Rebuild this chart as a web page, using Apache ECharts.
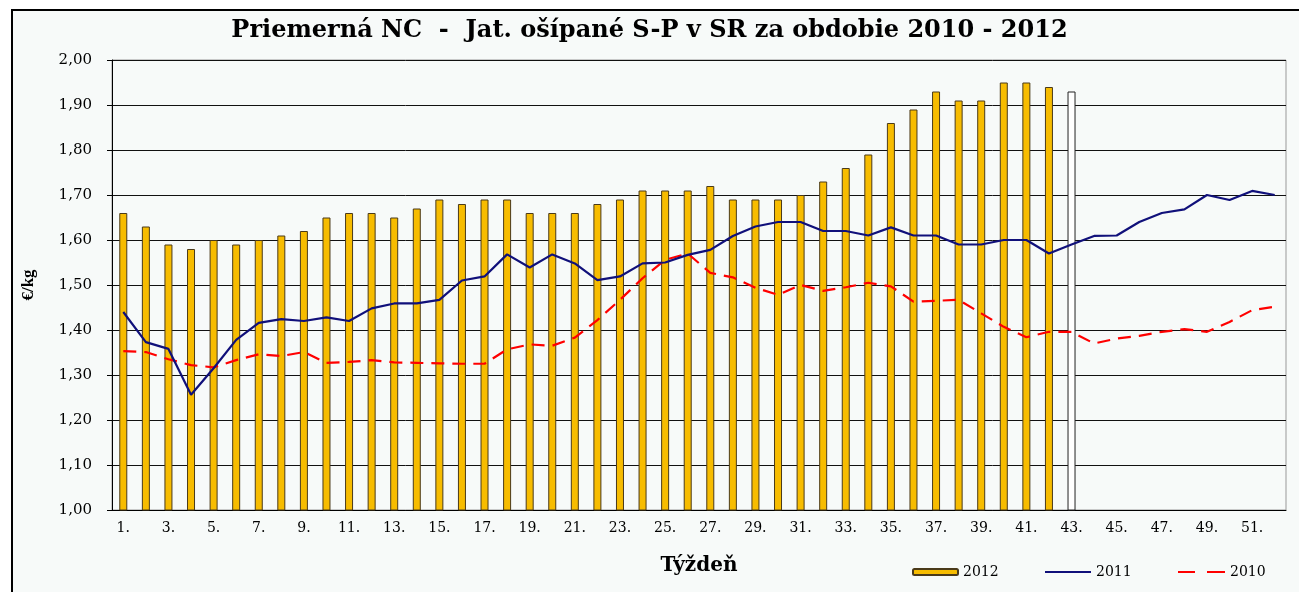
<!DOCTYPE html>
<html style="height: 100%">
  <head>
    <meta charset="utf-8" />
  </head>
  <body style="height: 100%; margin: 0; background: #fff">
    <div id="container" style="width: 1299px; height: 592px"></div>

    <script
      type="text/javascript"
      src="https://cdn.jsdelivr.net/npm/echarts@6/dist/echarts.min.js"
    ></script>

    <script type="text/javascript">
      var dom = document.getElementById("container");
      var myChart = echarts.init(dom, null, { renderer: "canvas" });

      var weeks = [
        1, 2, 3, 4, 5, 6, 7, 8, 9, 10, 11, 12, 13, 14, 15, 16, 17, 18, 19, 20,
        21, 22, 23, 24, 25, 26, 27, 28, 29, 30, 31, 32, 33, 34, 35, 36, 37, 38,
        39, 40, 41, 42, 43, 44, 45, 46, 47, 48, 49, 50, 51, 52
      ];

      // 2012 - stlpce (tyzden 43 je predbezny, bez vyplne)
      var data2012 = [
        1.66, 1.63, 1.59, 1.58, 1.60, 1.59, 1.60, 1.61, 1.62, 1.65,
        1.66, 1.66, 1.65, 1.67, 1.69, 1.68, 1.69, 1.69, 1.66, 1.66,
        1.66, 1.68, 1.69, 1.71, 1.71, 1.71, 1.72, 1.69, 1.69, 1.69,
        1.70, 1.73, 1.76, 1.79, 1.86, 1.89, 1.93, 1.91, 1.91, 1.95,
        1.95, 1.94, 1.93
      ];
      var provisionalWeek = 43;

      var data2011 = [
        1.44, 1.373, 1.358, 1.256, 1.315, 1.378, 1.416, 1.424, 1.42, 1.428,
        1.42, 1.448, 1.459, 1.459, 1.467, 1.51, 1.519, 1.568, 1.539, 1.568,
        1.548, 1.511, 1.519, 1.548, 1.55, 1.567, 1.578, 1.609, 1.63, 1.64,
        1.64, 1.62, 1.62, 1.61, 1.628, 1.61, 1.61, 1.59, 1.59, 1.60,
        1.60, 1.57, 1.59, 1.609, 1.61, 1.64, 1.66, 1.668, 1.70, 1.689,
        1.709, 1.70
      ];

      var data2010 = [
        1.353, 1.351, 1.335, 1.322, 1.317, 1.333, 1.346, 1.342, 1.351, 1.327,
        1.329, 1.333, 1.328, 1.327, 1.326, 1.325, 1.325, 1.357, 1.368, 1.365,
        1.383, 1.422, 1.467, 1.515, 1.556, 1.57, 1.527, 1.517, 1.494, 1.478,
        1.50, 1.487, 1.495, 1.505, 1.497, 1.463, 1.465, 1.467, 1.437, 1.407,
        1.384, 1.396, 1.396, 1.37, 1.381, 1.387, 1.396, 1.402, 1.396, 1.418,
        1.444, 1.452
      ];

      var serif = "Liberation Serif";
      var wideSerif = "DejaVu Serif";

      var barData = data2012.map(function (v, i) {
        if (weeks[i] === provisionalWeek) {
          return { value: v, itemStyle: { color: "#ffffff", borderColor: "#222" } };
        }
        return v;
      });

      var legendText = { fontFamily: wideSerif, fontSize: 14, color: "#000" };

      var option = {
        backgroundColor: "#ffffff",
        animation: false,
        graphic: [
          {
            type: "rect",
            shape: { x: 12, y: 10, width: 1300, height: 600 },
            style: { fill: "#f7faf9", stroke: "#000", lineWidth: 2 },
            z: -10,
            silent: true
          }
        ],
        title: {
          text: "Priemerná NC  -  Jat. ošípané S-P v SR za obdobie 2010 - 2012",
          left: "center",
          top: 14,
          textStyle: {
            fontFamily: wideSerif,
            fontWeight: "bold",
            fontSize: 24,
            color: "#000"
          }
        },
        legend: [
          {
            data: ["2012"],
            left: 912,
            top: 565,
            padding: 0,
            itemWidth: 45,
            itemHeight: 6,
            textStyle: legendText
          },
          {
            data: [{ name: "2011", icon: "path://M0,0H46V2H0Z" }],
            left: 1045,
            top: 565,
            padding: 0,
            itemWidth: 46,
            itemHeight: 2,
            textStyle: legendText
          },
          {
            data: [{ name: "2010", icon: "path://M0,0H17V2H0Z M29,0H47V2H29Z" }],
            left: 1178,
            top: 565,
            padding: 0,
            itemWidth: 47,
            itemHeight: 2,
            textStyle: legendText
          }
        ],
        grid: {
          left: 112,
          right: 13,
          top: 60,
          bottom: 82,
          show: true,
          borderColor: "#999",
          borderWidth: 1,
          backgroundColor: "transparent"
        },
        xAxis: {
          type: "category",
          data: weeks,
          name: "Týždeň",
          nameLocation: "middle",
          nameGap: 46,
          nameTextStyle: {
            fontFamily: wideSerif,
            fontWeight: "bold",
            fontSize: 20,
            color: "#000"
          },
          axisLine: { lineStyle: { color: "#000", width: 1 } },
          axisTick: { length: 5, lineStyle: { color: "#000" } },
          axisLabel: {
            interval: 1,
            fontFamily: wideSerif,
            fontSize: 14,
            color: "#000",
            margin: 11,
            formatter: function (v) {
              return v + ".";
            }
          },
          splitLine: { show: false }
        },
        yAxis: {
          type: "value",
          min: 1.0,
          max: 2.0,
          interval: 0.1,
          name: "€/kg",
          nameLocation: "middle",
          nameGap: 75,
          nameTextStyle: {
            fontFamily: serif,
            fontWeight: "bold",
            fontSize: 17,
            color: "#000"
          },
          axisLine: { show: true, lineStyle: { color: "#000", width: 1 } },
          axisTick: { show: true, length: 5, lineStyle: { color: "#000" } },
          axisLabel: {
            fontFamily: wideSerif,
            fontSize: 15,
            color: "#000",
            margin: 20,
            formatter: function (v) {
              return v.toFixed(2).replace(".", ",");
            }
          },
          splitLine: { lineStyle: { color: "#111", width: 1 } }
        },
        series: [
          {
            name: "2012",
            type: "bar",
            data: barData,
            barWidth: 8,
            itemStyle: {
              color: "#f7bc00",
              borderColor: "#4a3a1a",
              borderWidth: 1
            },
            z: 1
          },
          {
            name: "2011",
            type: "line",
            data: data2011,
            symbol: "none",
            lineStyle: { color: "#10107a", width: 2.2 },
            itemStyle: { color: "#10107a" },
            z: 3
          },
          {
            name: "2010",
            type: "line",
            data: data2010,
            symbol: "none",
            lineStyle: { color: "#ff0000", width: 2.2, type: [13, 8] },
            itemStyle: { color: "#ff0000" },
            z: 2
          }
        ]
      };

      if (option && typeof option === "object") {
        myChart.setOption(option);
      }
    </script>
  </body>
</html>
